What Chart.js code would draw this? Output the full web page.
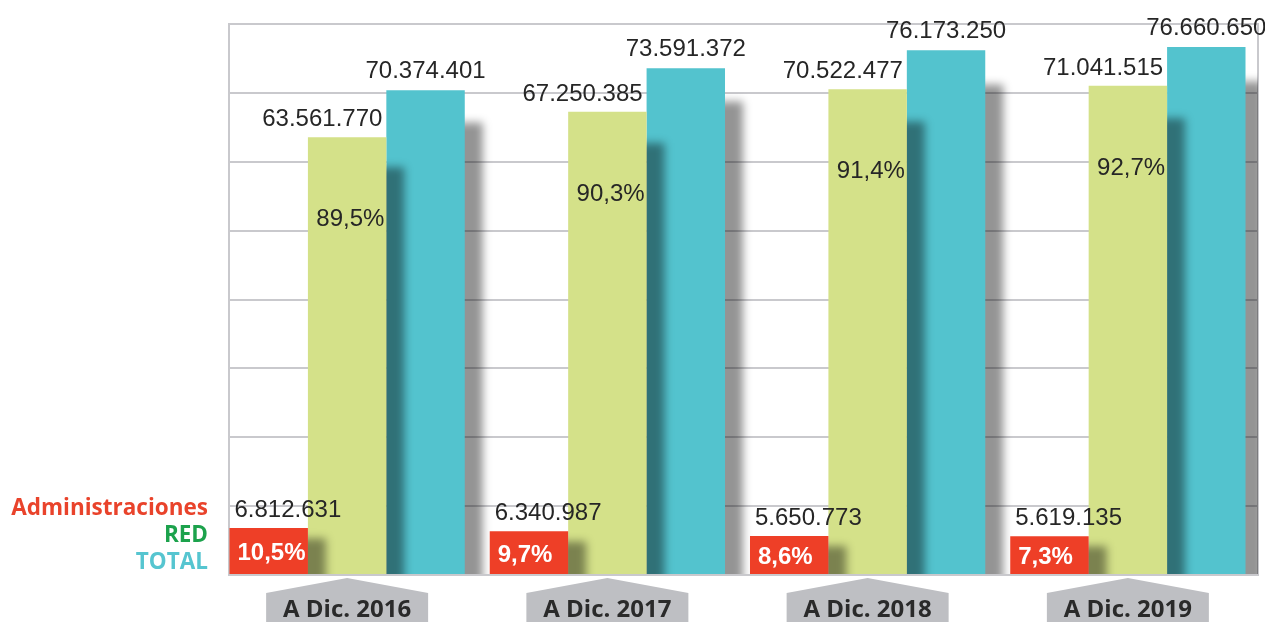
<!DOCTYPE html>
<html>
<head>
<meta charset="utf-8">
<script src="https://cdn.jsdelivr.net/npm/chart.js@4.4.1/dist/chart.umd.min.js"></script>
<style>
  html, body { margin: 0; padding: 0; background: #fff; }
  #chart { display: block; }
</style>
</head>
<body>
<canvas id="chart" width="1265" height="622"></canvas>
<script>
// data
const categories = ["A Dic. 2016", "A Dic. 2017", "A Dic. 2018", "A Dic. 2019"];
const adminValues = [6812631, 6340987, 5650773, 5619135];
const redValues = [63561770, 67250385, 70522477, 71041515];
const totalValues = [70374401, 73591372, 76173250, 76660650];
const adminPct = ["10,5%", "9,7%", "8,6%", "7,3%"];
const redPct = ["89,5%", "90,3%", "91,4%", "92,7%"];
const seriesNames = ["Administraciones", "RED", "TOTAL"];

const colors = {
  admin: "#ee3f27",
  red: "#d4e189",
  total: "#53c3ce",
  adminText: "#e9432b",
  redText: "#1ca24c",
  totalText: "#56c5d0",
  grid: "#c9c9cd",
};

// thousands with dots, spanish style
const fmt = n => String(n).replace(/\B(?=(\d{3})+(?!\d))/g, ".");

// the frame starts at the left edge of the first bar, not at the category edge
const frameLeft = chart => {
  const first = chart.getDatasetMeta(0).data[0];
  return Math.round(first.x - first.width / 2);
};

// grid + frame, drawn by hand so they start where the first bar starts
const gridPlugin = {
  id: "frameGrid",
  beforeDatasetsDraw(chart) {
    const { ctx, chartArea, scales } = chart;
    const left = frameLeft(chart);
    ctx.save();
    ctx.strokeStyle = colors.grid;
    ctx.lineWidth = 2;
    ctx.beginPath();
    scales.y.ticks.forEach(t => {
      const y = Math.round(scales.y.getPixelForValue(t.value));
      ctx.moveTo(left, y);
      ctx.lineTo(chartArea.right, y);
    });
    ctx.moveTo(left, chartArea.top - 1);
    ctx.lineTo(left, chartArea.bottom + 1);
    ctx.stroke();
    ctx.restore();
  },
};

// soft drop shadow to the right of each bar
const shadowPlugin = {
  id: "barShadows",
  beforeDatasetDraw(chart, args) {
    const { ctx, chartArea } = chart;
    ctx.save();
    ctx.beginPath();
    ctx.rect(chartArea.left, chartArea.top, chartArea.width, chartArea.height);
    ctx.clip();
    ctx.filter = "blur(4px)";
    ctx.fillStyle = "rgba(0,0,0,0.42)";
    args.meta.data.forEach(bar => {
      const h = bar.base - bar.y;
      const left = bar.x - bar.width / 2 + 18;
      const top = bar.y + 8 + h * 0.05;
      ctx.fillRect(left, top, bar.width, bar.base - top + 12);
    });
    ctx.restore();
  },
};

const labelPlugin = {
  id: "labels",
  afterDatasetsDraw(chart) {
    const { ctx } = chart;
    const adminMeta = chart.getDatasetMeta(0);
    const redMeta = chart.getDatasetMeta(1);
    const totalMeta = chart.getDatasetMeta(2);
    ctx.save();
    ctx.textBaseline = "alphabetic";
    ctx.fillStyle = "#262626";
    ctx.font = "24px 'Liberation Sans', Arial, sans-serif";

    totalMeta.data.forEach((bar, i) => {
      ctx.textAlign = "center";
      ctx.fillText(fmt(totalValues[i]), bar.x, bar.y - 12);
    });
    redMeta.data.forEach((bar, i) => {
      const right = bar.x + bar.width / 2;
      ctx.textAlign = "right";
      ctx.fillText(fmt(redValues[i]), right - 4, bar.y - 11);
      ctx.fillText(redPct[i], right - 2, bar.y + 89);
    });
    adminMeta.data.forEach((bar, i) => {
      const left = bar.x - bar.width / 2;
      ctx.textAlign = "left";
      ctx.fillStyle = "#262626";
      ctx.font = "24px 'Liberation Sans', Arial, sans-serif";
      ctx.fillText(fmt(adminValues[i]), left + 5, bar.y - 11);
      ctx.fillStyle = "#ffffff";
      ctx.font = "bold 24px 'Liberation Sans', Arial, sans-serif";
      ctx.textBaseline = "middle";
      ctx.fillText(adminPct[i], left + 8, (bar.y + bar.base) / 2 + 2);
      ctx.textBaseline = "alphabetic";
    });
    ctx.restore();
  },
  afterDraw(chart) {
    const { ctx, chartArea, scales } = chart;
    const left = frameLeft(chart);
    ctx.save();
    // bottom axis line
    ctx.strokeStyle = colors.grid;
    ctx.lineWidth = 2;
    ctx.beginPath();
    ctx.moveTo(left, Math.round(chartArea.bottom));
    ctx.lineTo(chartArea.right, Math.round(chartArea.bottom));
    ctx.stroke();
    // category tags under the axis
    categories.forEach((cat, i) => {
      const cx = scales.x.getPixelForValue(i);
      const b = chartArea.bottom;
      ctx.fillStyle = "#bebfc3";
      ctx.beginPath();
      ctx.moveTo(cx - 81, b + 18);
      ctx.lineTo(cx, b + 3);
      ctx.lineTo(cx + 81, b + 18);
      ctx.lineTo(cx + 81, chart.height);
      ctx.lineTo(cx - 81, chart.height);
      ctx.closePath();
      ctx.fill();
      ctx.fillStyle = "#2a2a2a";
      ctx.font = "bold 24px 'Open Sans', sans-serif";
      ctx.textAlign = "center";
      ctx.textBaseline = "alphabetic";
      ctx.fillText(cat, cx, chart.height - 5);
    });
    // series names on the left
    ctx.font = "bold 22.5px 'Open Sans', sans-serif";
    ctx.textAlign = "right";
    const textColors = [colors.adminText, colors.redText, colors.totalText];
    seriesNames.forEach((name, i) => {
      ctx.fillStyle = textColors[i];
      ctx.fillText(name, 208, chartArea.bottom - 60 + i * 27);
    });
    ctx.restore();
  },
};

new Chart(document.getElementById("chart"), {
  type: "bar",
  data: {
    labels: categories,
    datasets: [
      { label: seriesNames[0], data: adminValues, backgroundColor: colors.admin },
      { label: seriesNames[1], data: redValues, backgroundColor: colors.red },
      { label: seriesNames[2], data: totalValues, backgroundColor: colors.total },
    ],
  },
  options: {
    responsive: false,
    animation: false,
    layout: { padding: { left: 217, right: 7, top: 24, bottom: 47 } },
    datasets: { bar: { categoryPercentage: 0.904, barPercentage: 1.0, borderWidth: 0 } },
    plugins: { legend: { display: false }, tooltip: { enabled: false } },
    scales: {
      x: {
        ticks: { display: false },
        grid: { display: false, drawTicks: false },
        border: { display: false },
      },
      y: {
        min: 0,
        max: 80000000,
        ticks: { display: false, stepSize: 10000000 },
        grid: { display: false, drawTicks: false },
        border: { display: false },
      },
      y2: {
        position: "right",
        min: 0,
        max: 80000000,
        ticks: { display: false },
        grid: { display: false, drawTicks: false },
        border: { display: true, color: colors.grid, width: 2 },
      },
    },
  },
  plugins: [gridPlugin, shadowPlugin, labelPlugin],
});
</script>
</body>
</html>
